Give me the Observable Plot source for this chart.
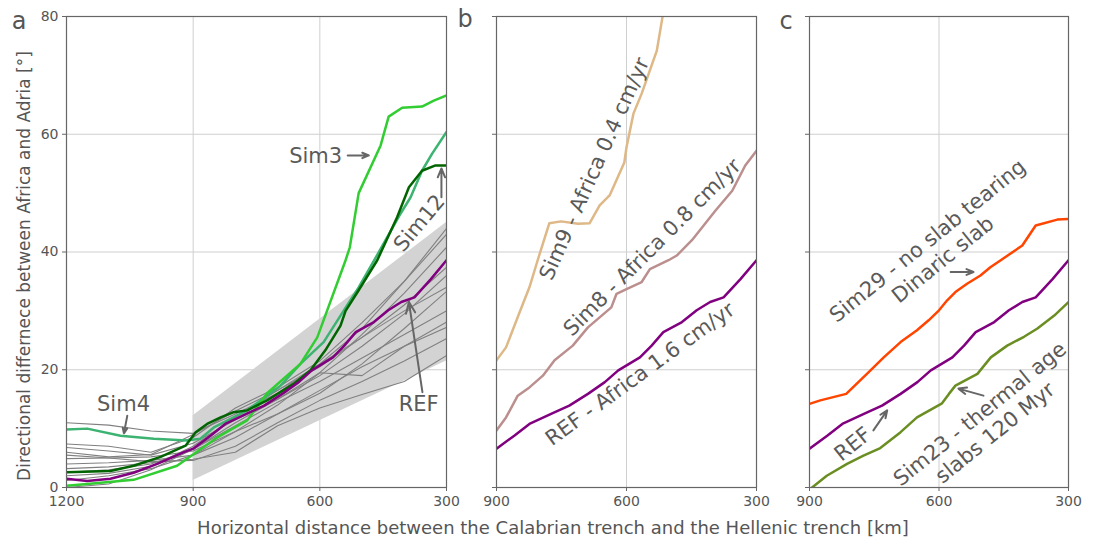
<!DOCTYPE html>
<html><head><meta charset="utf-8">
<script src="https://cdn.jsdelivr.net/npm/d3@7"></script>
<script src="https://cdn.jsdelivr.net/npm/@observablehq/plot@0.6"></script>
<style>
body{margin:0;background:#fff;font-family:"DejaVu Sans",sans-serif;}
#wrap{position:relative;width:1097px;height:538px;overflow:hidden;background:#fff;}
.pl{position:absolute;top:0;}
.lab{position:absolute;color:#555;white-space:nowrap;transform:translate(-50%,-50%);font-family:"DejaVu Sans",sans-serif;}
</style></head><body><div id="wrap"></div>
<script>
// ---------- data ----------
const yTicks = [0, 20, 40, 60, 80];
const xTicksA = [1200, 900, 600, 300];
const xTicksBC = [900, 600, 300];

// gray envelope in panel a
const bandX = [900, 300];
const bandLow = [1.2, 21.5];
const bandHigh = [12.2, 45];

// gray simulations (panel a), shared x grid
const grayX = [1200, 1100, 1000, 900, 800, 700, 600, 500, 400, 300];
const gray01 = [11, 10.6, 9.6, 9.2, 12.5, 16, 21, 27, 35, 44];
const gray02 = [7.4, 7.0, 6.0, 8.5, 13.5, 17, 21.5, 28, 35, 43];
const gray03 = [6.8, 6.2, 5.5, 7.5, 11.5, 15, 19.5, 26, 33, 40.8];
const gray04 = [6.0, 5.2, 5.6, 9.0, 13, 16.5, 20.5, 25.5, 31, 37.4];
const gray05 = [4.9, 5.0, 5.2, 6.2, 9.5, 14, 19.5, 19, 24, 28.1];
const gray06 = [4.0, 4.2, 4.6, 5.5, 8.5, 12.5, 16, 21, 27, 33.3];
const gray07 = [3.2, 3.5, 4.2, 4.8, 6.0, 10.5, 13.5, 15.8, 18, 22.4];
const gray08 = [2.6, 3.0, 4.0, 6.5, 10.5, 14.5, 18, 22, 26, 30];
const gray09 = [1.2, 2.0, 3.2, 5.5, 9.5, 12.5, 16.5, 20.5, 24, 27.2];
const gray10 = [0, 0.6, 3.0, 6.5, 11, 15, 19, 24, 29.5, 36];
const gray11 = [5.5, 5.0, 4.4, 4.6, 7, 11, 14.8, 18, 21.5, 25.3];
const gray12 = [2.0, 2.4, 3.6, 7.0, 12, 16.5, 21, 25.5, 30, 34];
const grayAll = [gray01, gray02, gray03, gray04, gray05, gray06, gray07, gray08, gray09, gray10, gray11, gray12];

// REF (all panels)
const refX = [1200, 1151, 1096, 1041, 985, 922, 900, 859, 824, 774, 732, 689, 650, 619, 569, 542, 515, 472, 438, 407, 376, 337, 300];
const refY = [1.5, 1.1, 1.5, 2.5, 4.0, 6.0, 6.6, 8.8, 10.8, 12.5, 13.9, 15.9, 17.9, 19.9, 22.1, 24.1, 26.4, 28.1, 30.1, 31.5, 32.3, 35.4, 38.6];

// Sim3 (lime)
const sim3X = [1200, 1151, 1041, 938, 843, 772, 725, 646, 606, 539, 529, 508, 456, 437, 405, 358, 330, 300];
const sim3Y = [0.3, 0.6, 1.3, 3.7, 8.5, 11.4, 16, 21, 25.5, 38.6, 40.8, 50, 58.1, 63, 64.5, 64.7, 65.7, 66.6];

// Sim4 (sea green)
const sim4X = [1200, 1151, 1072, 993, 914, 883, 851, 772, 693, 646, 591, 551, 508, 464, 409, 385, 358, 334, 300];
const sim4Y = [9.85, 10, 8.8, 8.3, 8.0, 8.3, 10.2, 13.1, 17.3, 21, 24.7, 29.2, 34, 39.5, 46.5, 49.3, 53.8, 56.7, 60.4];

// Sim12 (dark green)
const sim12X = [1200, 1096, 1041, 977, 918, 894, 867, 835, 804, 772, 725, 662, 622, 587, 551, 539, 508, 464, 417, 389, 358, 326, 300];
const sim12Y = [2.6, 2.8, 3.7, 5.2, 7.1, 9.4, 10.8, 11.9, 12.8, 13.1, 14.8, 17.6, 19.9, 23.3, 27.5, 30, 33.5, 38.6, 45.9, 51, 53.8, 54.7, 54.7];

// Sim9 (panel b)
const sim9X = [900, 878, 848, 824, 805, 778, 751, 712, 685, 662, 639, 605, 600, 584, 565, 530, 517, 511];
const sim9Y = [21.6, 23.8, 29.5, 34, 38.6, 44.9, 45.2, 44.8, 44.9, 47.9, 49.6, 55.2, 57.8, 63.5, 66.9, 74.2, 79.9, 82.8];

// Sim8 (panel b)
const sim8X = [900, 878, 851, 824, 793, 766, 724, 689, 635, 623, 600, 565, 546, 503, 484, 449, 395, 356, 326, 300];
const sim8Y = [9.7, 11.9, 15.6, 17, 19, 21.6, 24.1, 27.2, 30.6, 32.9, 33.7, 34.9, 37.1, 38.6, 39.4, 42, 47, 50.4, 54.7, 57.2];

// Sim29 (panel c)
const sim29X = [900, 875, 815, 767, 728, 689, 651, 624, 600, 581, 562, 535, 504, 481, 457, 407, 376, 326, 300];
const sim29Y = [14.2, 14.8, 15.9, 19.3, 22.1, 24.7, 26.7, 28.4, 30.1, 31.8, 33.2, 34.6, 36, 37.4, 38.6, 41.1, 44.5, 45.5, 45.6];

// Sim23 (panel c)
const sim23X = [900, 894, 860, 813, 775, 736, 689, 651, 593, 577, 562, 511, 480, 442, 403, 372, 333, 300];
const sim23Y = [-0.8, 0, 2, 4, 5.4, 6.7, 9.4, 11.9, 14.3, 15.9, 17.3, 19.3, 22.1, 24.1, 25.6, 27, 29.2, 31.5];

// annotations (data coordinates)
const annA = [
  {x: 610, y: 56.4, text: "Sim3", rotate: 0},
  {x: 366, y: 45, text: "Sim12", rotate: -50},
  {x: 1065, y: 14.3, text: "Sim4", rotate: 0},
  {x: 366, y: 14.3, text: "REF", rotate: 0}
];
const arrA = [
  {x1: 534, y1: 56.4, x2: 484, y2: 56.4},
  {x1: 312, y1: 49.3, x2: 312, y2: 54.2},
  {x1: 1056, y1: 12.2, x2: 1064, y2: 9.2},
  {x1: 357, y1: 16.2, x2: 389, y2: 31.5}
];
const annB = [
  {x: 676, y: 54.2, text: "Sim9 - Africa 0.4 cm/yr", rotate: -66},
  {x: 542, y: 40.9, text: "Sim8 - Africa 0.8 cm/yr", rotate: -45},
  {x: 570, y: 19.4, text: "REF - Africa 1.6 cm/yr", rotate: -36}
];
const annC = [
  {x: 610, y: 40.4, text: "Sim29 - no slab tearing\nDinaric slab", rotate: -39},
  {x: 801, y: 7.5, text: "REF", rotate: -39},
  {x: 489, y: 11, text: "Sim23 - thermal age\nslabs 120 Myr", rotate: -39}
];
const arrC = [
  {x1: 573, y1: 36.6, x2: 520, y2: 36.6},
  {x1: 752, y1: 9.7, x2: 720, y2: 13.1},
  {x1: 497, y1: 15.6, x2: 555, y2: 16.8}
];

// ---------- build ----------
const rows = (xs, ys, name) => xs.map((x, i) => ({x, y: ys[i], name}));
const grayRows = grayAll.flatMap((ys, k) => rows(grayX, ys, "g" + k));
const bandRows = bandX.map((x, i) => ({x, lo: bandLow[i], hi: bandHigh[i]}));

const txtCol = "#5a5a5a";
const style = {fontFamily: "DejaVu Sans, sans-serif", fontSize: "14px", color: "#555", background: "transparent", overflow: "visible"};
const fmt = d => String(d);

function basePanel(opts) {
  const {left, width, mL, mR, xDomain, xTicks, yLabels, marks} = opts;
  const svg = Plot.plot({
    width, height: 538,
    marginLeft: mL, marginRight: mR, marginTop: 16, marginBottom: 51,
    style,
    x: {domain: xDomain},
    y: {domain: [0, 80]},
    marks: [
      Plot.gridX(xTicks, {stroke: "#cfcfcf", strokeOpacity: 1, strokeWidth: 1}),
      Plot.gridY(yTicks, {stroke: "#cfcfcf", strokeOpacity: 1, strokeWidth: 1}),
      ...marks,
      Plot.frame({stroke: "#666", strokeWidth: 1.2}),
      Plot.axisX({ticks: xTicks, tickFormat: fmt, tickSize: 4, tickPadding: 5, stroke: "#666", label: null, fontSize: 14, fill: "#555"}),
      yLabels
        ? Plot.axisY({ticks: yTicks, tickFormat: fmt, tickSize: 4, tickPadding: 4, stroke: "#666", label: null, fontSize: 14, fill: "#555"})
        : Plot.axisY({ticks: yTicks, tickSize: 4, tickFormat: () => "", stroke: "#666", label: null})
    ]
  });
  svg.classList.add("pl");
  svg.style.left = left + "px";
  return svg;
}

const line = (xs, ys, color, w) => Plot.line(rows(xs, ys, ""), {x: "x", y: "y", stroke: color, strokeWidth: w, clip: true, curve: "linear"});
const textMark = (ann) => Plot.text(ann, {x: "x", y: "y", text: "text", rotate: "rotate", fontSize: 21, fill: txtCol, textAnchor: "middle", lineAnchor: "middle", lineHeight: 1.15});
const arrowMark = (arr) => Plot.arrow(arr, {x1: "x1", y1: "y1", x2: "x2", y2: "y2", stroke: "#666", strokeWidth: 2, headLength: 9, headAngle: 45});

const wrap = document.getElementById("wrap");

wrap.appendChild(basePanel({
  left: 0, width: 460, mL: 66, mR: 14,
  xDomain: [1200, 300], xTicks: xTicksA, yLabels: true,
  marks: [
    Plot.areaY(bandRows, {x: "x", y1: "lo", y2: "hi", fill: "#d3d3d3"}),
    Plot.line(grayRows, {x: "x", y: "y", z: "name", stroke: "#808080", strokeWidth: 1.1, clip: true}),
    line(sim4X, sim4Y, "#3cb371", 2.5),
    line(sim3X, sim3Y, "#32cd32", 2.5),
    line(sim12X, sim12Y, "#006400", 2.5),
    line(refX, refY, "#800080", 2.5),
    textMark(annA),
    arrowMark(arrA)
  ]
}));

wrap.appendChild(basePanel({
  left: 450, width: 330, mL: 46, mR: 24,
  xDomain: [900, 300], xTicks: xTicksBC, yLabels: false,
  marks: [
    line(sim9X, sim9Y, "#deb887", 2.5),
    line(sim8X, sim8Y, "#bc8f8f", 2.5),
    line(refX.filter(x => x <= 900), refY.filter((v, i) => refX[i] <= 900), "#800080", 2.5),
    textMark(annB)
  ]
}));

wrap.appendChild(basePanel({
  left: 770, width: 327, mL: 39, mR: 29,
  xDomain: [900, 300], xTicks: xTicksBC, yLabels: false,
  marks: [
    line(sim29X, sim29Y, "#ff4500", 2.5),
    line(refX.filter(x => x <= 900), refY.filter((v, i) => refX[i] <= 900), "#800080", 2.5),
    line(sim23X, sim23Y, "#6b8e23", 2.5),
    textMark(annC),
    arrowMark(arrC)
  ]
}));

function label(text, x, y, size, rot) {
  const d = document.createElement("div");
  d.className = "lab";
  d.textContent = text;
  d.style.left = x + "px";
  d.style.top = y + "px";
  d.style.fontSize = size + "px";
  if (rot) d.style.transform = `translate(-50%,-50%) rotate(${rot}deg)`;
  wrap.appendChild(d);
}
label("a", 19, 21, 24);
label("b", 465, 19, 24);
label("c", 786, 21, 24);
label("Directional differnece between Africa and Adria [°]", 24, 266, 17, -90);
label("Horizontal distance between the Calabrian trench and the Hellenic trench [km]", 553, 527, 18);
</script></body></html>
